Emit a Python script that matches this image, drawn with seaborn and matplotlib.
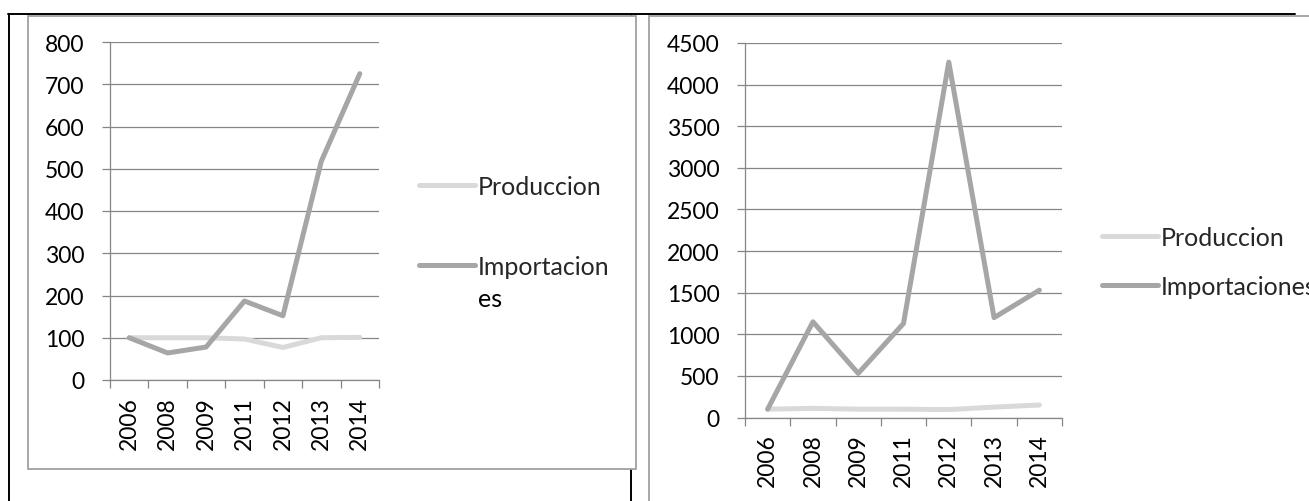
import matplotlib

matplotlib.use("Agg")

import matplotlib.pyplot as plt
import numpy as np
import pandas as pd
import seaborn as sns
from matplotlib.lines import Line2D
from matplotlib.patches import Rectangle

# values (index, 2006 = 100)
years = ["2006", "2008", "2009", "2011", "2012", "2013", "2014"]
series_names = ["Produccion", "Importaciones"]

left_produccion = [100, 100, 100, 97, 77, 100, 101]
left_importaciones = [100, 64, 78, 187, 152, 518, 725]
left_yticks = [0, 100, 200, 300, 400, 500, 600, 700, 800]

right_produccion = [100, 110, 100, 100, 95, 125, 150]
right_importaciones = [100, 1150, 530, 1130, 4270, 1200, 1530]
right_yticks = [0, 500, 1000, 1500, 2000, 2500, 3000, 3500, 4000, 4500]

W, H = 1309, 502
GRID = "#868686"
COLORS = {"Produccion": "#d9d9d9", "Importaciones": "#a6a6a6"}
LW = 3.6
TICK_FS = 16.5
LEG_FS = 18


def fx(x):
    return x / W


def fy(y):
    return 1 - y / H


def long_frame(prod, imp):
    return pd.DataFrame({
        "year": years * 2,
        "value": list(prod) + list(imp),
        "serie": [series_names[0]] * len(years) + [series_names[1]] * len(years),
    })


def draw_panel(ax, data, yticks):
    sns.lineplot(
        data=data, x="year", y="value", hue="serie", hue_order=series_names,
        palette=COLORS, linewidth=LW, legend=False, ax=ax,
        solid_capstyle="round", solid_joinstyle="round",
    )
    ax.set_facecolor("none")
    ax.set_xlim(-0.5, len(years) - 0.5)
    ax.set_ylim(yticks[0], yticks[-1])
    ax.set_yticks(yticks)
    ax.set_xticks(range(len(years)))
    ax.set_xticklabels(years, rotation=90)
    ax.set_xticks(np.arange(-0.5, len(years), 1.0), minor=True)
    ax.set_xlabel("")
    ax.set_ylabel("")
    ax.yaxis.grid(True, color=GRID, linewidth=0.9)
    ax.xaxis.grid(False)
    for side in ("top", "right"):
        ax.spines[side].set_visible(False)
    for side in ("left", "bottom"):
        ax.spines[side].set_color(GRID)
        ax.spines[side].set_linewidth(0.9)
    ax.tick_params(axis="y", direction="out", length=5.8, width=0.9, color=GRID,
                   pad=12.5, labelsize=TICK_FS, labelcolor="black", left=True)
    ax.tick_params(axis="x", which="major", length=0, pad=11.5, labelsize=TICK_FS,
                   labelcolor="black")
    ax.tick_params(axis="x", which="minor", direction="out", length=5.8, width=0.9,
                   color=GRID, bottom=True)


sns.set_theme(style="white")
plt.rcParams["font.family"] = ["Lato", "DejaVu Sans"]

fig = plt.figure(figsize=(W / 100, H / 100), dpi=100)
fig.patch.set_facecolor("white")

# table borders of the page behind the charts
for xs, ys in [((8, 1295), (15, 15)), ((9, 9), (15, 502)), ((631, 631), (15, 502))]:
    fig.add_artist(Line2D([fx(x) for x in xs], [fy(y) for y in ys], color="black",
                          linewidth=1.4, transform=fig.transFigure, zorder=-3))

# chart areas
for x0, y0, x1, y1 in [(28, 17, 636, 470), (649, 17, 1312, 506)]:
    fig.add_artist(Rectangle((fx(x0), fy(y1)), fx(x1 - x0), (y1 - y0) / H,
                             transform=fig.transFigure, facecolor="white",
                             edgecolor="#a0a0a0", linewidth=1.3, zorder=-2))

ax1 = fig.add_axes([fx(110), fy(381), fx(269), 338 / H])
ax2 = fig.add_axes([fx(745), fy(418.5), fx(317), 374.5 / H])

draw_panel(ax1, long_frame(left_produccion, left_importaciones), left_yticks)
draw_panel(ax2, long_frame(right_produccion, right_importaciones), right_yticks)

fs_px = LEG_FS * 100 / 72
leg1 = fig.legend(ax1.lines[:2], ["Produccion", "Importacion"], loc="center left",
                  bbox_to_anchor=(fx(419), fy(227.5)), frameon=False, fontsize=LEG_FS,
                  handlelength=56 / fs_px, handletextpad=3 / fs_px, labelspacing=2.28,
                  borderpad=0, borderaxespad=0)
# the right legend label runs past the picture edge, as in the original
leg2 = fig.legend(ax2.lines[:2], ["Produccion", "Importaciones"], loc="center left",
                  bbox_to_anchor=(fx(1102), fy(263)), frameon=False, fontsize=LEG_FS,
                  handlelength=56 / fs_px, handletextpad=3 / fs_px, labelspacing=1.04,
                  borderpad=0, borderaxespad=0)
for leg in (leg1, leg2):
    for h in leg.legend_handles:
        h.set_linewidth(LW)
        h.set_solid_capstyle("round")

# wrapped remainder of the left legend label
fig.canvas.draw()
bb = leg1.get_texts()[1].get_window_extent()
fig.text(bb.x0 / W, (bb.y0 - 32) / H + (bb.height / 2) / H, "es", fontsize=LEG_FS,
         va="center", ha="left", color="black")

fig.savefig("out.png", dpi=100)
